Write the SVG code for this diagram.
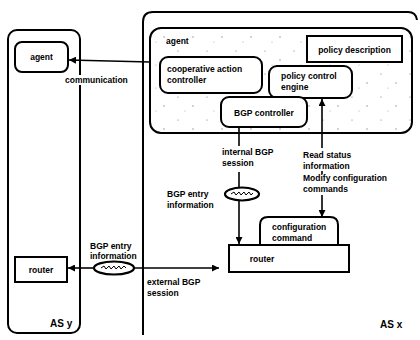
<svg xmlns="http://www.w3.org/2000/svg" width="420" height="340" viewBox="0 0 420 340">
<style>
text{font-family:"Liberation Sans",Arial,sans-serif;font-weight:bold;font-size:8.5px;fill:#000}
.box{fill:#fff;stroke:#000;stroke-width:2}
.frame{fill:none;stroke:#000;stroke-width:2}
.ln{fill:none;stroke:#000;stroke-width:1.6}
.lbl{font-size:10px}
.bg{fill:#fff}
</style>
<defs>
<marker id="ah" viewBox="0 0 8 8" refX="8" refY="4" markerWidth="7" markerHeight="7" markerUnits="userSpaceOnUse" orient="auto">
<path d="M0,0 L8,4 L0,8 z" fill="#000"/>
</marker>
<pattern id="speck" width="29" height="23" patternUnits="userSpaceOnUse">
<rect width="29" height="23" fill="#fff"/>
<circle cx="4" cy="5" r="0.6" fill="#777"/>
<circle cx="19" cy="14" r="0.7" fill="#888"/>
<circle cx="11" cy="19" r="0.5" fill="#999"/>
</pattern>
</defs>

<g id="as-y">
<rect class="frame" x="8" y="30" width="72" height="303" rx="9"/>
<text class="lbl" x="50" y="327">AS y</text>
</g>

<g id="as-x">
<path class="frame" d="M143,335 L143,22 Q143,12 153,12 L408,12 Q416,12 417,20"/>
<text class="lbl" x="380" y="328">AS x</text>
</g>

<g id="agent-y">
<rect class="box" x="15" y="42" width="53" height="30" rx="7"/>
<text x="41.5" y="60" text-anchor="middle">agent</text>
</g>

<g id="router-y">
<rect class="box" x="15" y="257" width="52" height="25"/>
<text x="41" y="272.5" text-anchor="middle">router</text>
</g>

<g id="agent-x">
<rect x="150" y="28" width="262" height="105" rx="11" fill="url(#speck)" stroke="#000" stroke-width="2"/>
<text x="166" y="44">agent</text>
</g>

<g id="policy-description">
<rect class="box" x="307" y="36" width="95" height="26"/>
<text x="354.5" y="52.5" text-anchor="middle">policy description</text>
</g>

<g id="cooperative-action-controller">
<rect class="box" x="160" y="57" width="102" height="36" rx="8"/>
<text x="167" y="72">cooperative action</text>
<text x="167" y="83">controller</text>
</g>

<g id="policy-control-engine">
<rect class="box" x="269" y="66" width="83" height="32" rx="8"/>
<text x="281" y="79">policy control</text>
<text x="281" y="90">engine</text>
</g>

<g id="bgp-controller">
<rect class="box" x="221" y="97" width="86" height="30" rx="8"/>
<text x="264" y="116" text-anchor="middle">BGP controller</text>
</g>

<g id="configuration-command">
<path class="box" d="M260,245 L260,225 Q260,217 268,217 L330,217 Q338,217 338,225 L338,245"/>
<text x="272" y="230">configuration</text>
<text x="272" y="241">command</text>
</g>

<g id="router-x">
<rect class="box" x="229" y="245" width="120" height="27"/>
<text x="262" y="262" text-anchor="middle">router</text>
</g>

<g id="connectors">
<line class="ln" x1="150" y1="62" x2="69" y2="60" marker-end="url(#ah)"/>
<rect class="bg" x="64" y="75" width="66" height="10"/>
<text x="65" y="83">communication</text>

<line class="ln" x1="239" y1="127" x2="239" y2="146"/>
<text x="222" y="155">internal BGP</text>
<text x="222" y="166">session</text>
<line class="ln" x1="239" y1="172" x2="239" y2="188"/>
<line class="ln" x1="239" y1="200" x2="239" y2="244" marker-end="url(#ah)"/>
<text x="167" y="197">BGP entry</text>
<text x="167" y="208">information</text>

<line class="ln" x1="322" y1="148" x2="322" y2="99" marker-end="url(#ah)"/>
<text x="303" y="158">Read status</text>
<text x="303" y="169">information</text>
<line class="ln" x1="322" y1="171" x2="322" y2="174"/>
<text x="303" y="181">Modify configuration</text>
<text x="303" y="192">commands</text>
<line class="ln" x1="322" y1="195" x2="322" y2="217" marker-end="url(#ah)"/>

<line class="ln" x1="93" y1="268" x2="68" y2="268" marker-end="url(#ah)"/>
<line class="ln" x1="135" y1="268" x2="219" y2="268" marker-end="url(#ah)"/>
<text x="90" y="249">BGP entry</text>
<text x="90" y="259">information</text>
<text x="147" y="285">external BGP</text>
<text x="147" y="296">session</text>
</g>

<g id="token-internal">
<ellipse cx="242" cy="194" rx="17" ry="6.5" fill="#fff" stroke="#000" stroke-width="2.2"/>
<path d="M231,194 l3,-2 l2,3 l3,-3 l2,3 l3,-3 l2,3 l3,-3 l2,3 l2,-2" fill="none" stroke="#000" stroke-width="1"/>
</g>
<g id="token-external">
<ellipse cx="114" cy="268" rx="20" ry="6.5" fill="#fff" stroke="#000" stroke-width="2.2"/>
<path d="M101,268 l3,-2 l2,3 l3,-3 l2,3 l3,-3 l2,3 l3,-3 l2,3 l3,-3 l2,2" fill="none" stroke="#000" stroke-width="1"/>
</g>
</svg>
